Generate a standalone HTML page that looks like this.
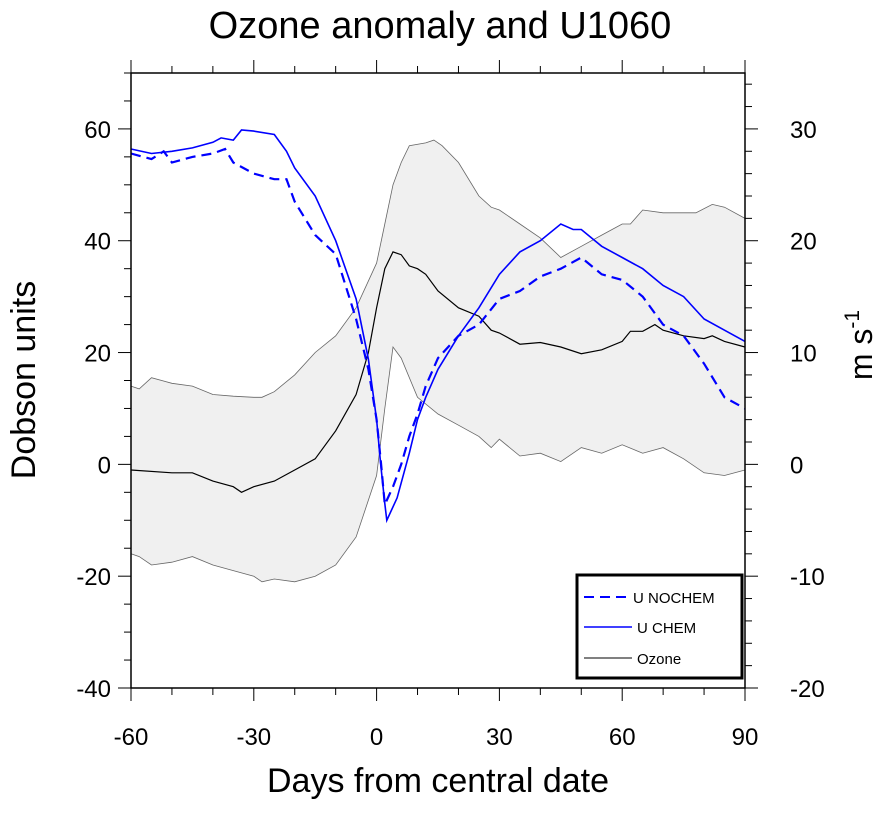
<!DOCTYPE html>
<html><head><meta charset="utf-8"><style>
body{margin:0;background:#fff;}
svg text{font-family:"Liberation Sans",sans-serif;}
</style></head><body>
<svg id="chart" width="880" height="809" xmlns="http://www.w3.org/2000/svg">
<rect width="880" height="809" fill="#fff"/>
<text x="440" y="38" font-size="38" text-anchor="middle">Ozone anomaly and U1060</text>
<g id="plot"></g>
<text x="438" y="792" font-size="34" text-anchor="middle">Days from central date</text>
<text transform="translate(35,380) rotate(-90)" font-size="34" text-anchor="middle">Dobson units</text>
<text transform="translate(872,345) rotate(-90)" font-size="32" text-anchor="middle">m s<tspan font-size="21" dy="-13">-1</tspan></text>
<g>
<rect x="577" y="575" width="165" height="103" fill="#fff" stroke="#000" stroke-width="3"/>
<line x1="584" y1="597" x2="632" y2="597" stroke="#0000ff" stroke-width="2" stroke-dasharray="10,6"/>
<text x="633" y="603" font-size="15">U NOCHEM</text>
<line x1="584" y1="627" x2="632" y2="627" stroke="#0000ff" stroke-width="1.5"/>
<text x="637" y="633" font-size="15">U CHEM</text>
<line x1="584" y1="658" x2="632" y2="658" stroke="#000" stroke-width="1"/>
<text x="637" y="664" font-size="15">Ozone</text>
</g>
</svg>
<script>
const ozDays=[-60,-50,-45,-40,-35,-33,-30,-25,-20,-15,-10,-5,-2,0,2,4,6,8,10,12,15,20,25,28,30,35,40,45,50,55,60,62,65,68,70,75,80,82,85,90];
const ozMean=[-1,-1.5,-1.5,-3,-4,-5,-4,-3,-1,1,6,12.5,20,28,35,38,37.5,35.5,35,34,31,28,26.5,24,23.5,21.5,21.8,21,19.8,20.5,22,23.8,23.8,25,24,23,22.5,23,22,21];
const upDays=[-60,-58,-55,-50,-45,-40,-35,-30,-28,-25,-20,-15,-10,-5,0,2,4,6,8,12,14,16,20,25,28,30,35,40,45,50,55,60,62,65,70,75,78,82,85,90];
const ozUpper=[14,13.5,15.5,14.5,14,12.5,12.2,12,12,13,16,20,23,28,36,43,50,54,57,57.5,58,57,54,48,46,45.5,43,40.5,37,39,41,43,43,45.5,45,45,45,46.5,46,44];
const loDays=[-60,-58,-55,-50,-45,-40,-35,-30,-28,-25,-20,-15,-10,-5,0,2,4,6,10,15,20,25,28,30,35,40,45,50,55,60,65,70,75,80,85,90];
const ozLower=[-16,-16.5,-18,-17.5,-16.5,-18,-19,-20,-21,-20.5,-21,-20,-18,-13,-2,10,21,19,12,9,7,5,3,4.5,1.5,2,0.5,3,2,3.5,2,3,1,-1.5,-2,-1];
const chemDays=[-60,-55,-50,-45,-40,-38,-35,-33,-30,-25,-22,-20,-15,-10,-5,-2,0,1,2,2.5,5,8,10,12,15,20,25,30,35,40,45,48,50,55,60,65,70,75,80,85,90];
const uChem=[28.2,27.8,28,28.3,28.8,29.2,29,29.9,29.8,29.5,28,26.5,24,20,14.8,9.4,4,0,-3.5,-5,-3,1,4,6,8.5,11.5,14,17,19,20,21.5,21,21,19.5,18.5,17.5,16,15,13,12,11];
const nochemDays=[-60,-55,-52,-50,-45,-40,-37,-35,-30,-25,-22,-20,-15,-10,-5,-2,0,1,2,4,6,8,10,12,15,20,25,30,35,40,45,50,55,60,65,70,75,80,85,90];
const uNochem=[27.8,27.3,28,27,27.5,27.8,28.2,27,26,25.5,25.5,23.5,20.5,18.8,13,8.5,4,0.4,-3.6,-2,0,2.5,4.5,7,9.5,11.5,12.5,14.8,15.5,16.8,17.5,18.5,17,16.5,15,12.5,11.5,9,6,5];
const xTicks=[-60,-30,0,30,60,90];
const yLeftTicks=[-40,-20,0,20,40,60];
const yRightTicks=[-20,-10,0,10,20,30];

const X0=131,X1=745,Y0=73,Y1=688;
const xs=d=>X0+(d+60)/150*(X1-X0);
const yL=v=>Y1-(v+40)/110*(Y1-Y0);
const yR=v=>Y1-(v+20)/55*(Y1-Y0);
const NS="http://www.w3.org/2000/svg";
const plot=document.getElementById('plot');
function mk(tag,attrs){const e=document.createElementNS(NS,tag);for(const k in attrs)e.setAttribute(k,attrs[k]);plot.appendChild(e);return e;}
const pts=(d,v,f)=>d.map((x,i)=>xs(x).toFixed(1)+','+f(v[i]).toFixed(1));

let bandPts=pts(upDays,ozUpper,yL).concat(pts(loDays,ozLower,yL).reverse());
let band=mk('polygon',{points:bandPts.join(' '),fill:'#f0f0f0',stroke:'none'});


let up=mk('polyline',{points:pts(upDays,ozUpper,yL).join(' '),fill:'none',stroke:'#666',"stroke-width":0.8});


let lo=mk('polyline',{points:pts(loDays,ozLower,yL).join(' '),fill:'none',stroke:'#666',"stroke-width":0.8});


let om=mk('polyline',{points:pts(ozDays,ozMean,yL).join(' '),fill:'none',stroke:'#000',"stroke-width":1.2});


let uc=mk('polyline',{points:pts(chemDays,uChem,yR).join(' '),fill:'none',stroke:'#0000ff',"stroke-width":1.6});


let un=mk('polyline',{points:pts(nochemDays,uNochem,yR).join(' '),fill:'none',stroke:'#0000ff',"stroke-width":2.2,"stroke-dasharray":"10,6"});



let fr=mk('rect',{x:X0,y:Y0,width:X1-X0,height:Y1-Y0,fill:'none',stroke:'#000',"stroke-width":1.5});



for(let d=-60;d<=90;d+=10){const maj=(d%30===0);const L=maj?13:7;
 mk('line',{x1:xs(d),y1:Y1,x2:xs(d),y2:Y1+L,stroke:'#000',"stroke-width":1});
 mk('line',{x1:xs(d),y1:Y0,x2:xs(d),y2:Y0-L,stroke:'#000',"stroke-width":1});}
xTicks.forEach(d=>{const t=mk('text',{x:xs(d),y:Y1+57,"font-size":24,"text-anchor":"middle"});t.textContent=d;

});
for(let v=-40;v<=70;v+=5){const maj=(v%20===0);const L=maj?13:7;
 mk('line',{x1:X0,y1:yL(v),x2:X0-L,y2:yL(v),stroke:'#000',"stroke-width":1});}
yLeftTicks.forEach(v=>{const t=mk('text',{x:X0-20,y:yL(v)+9,"font-size":24,"text-anchor":"end"});t.textContent=v;

});
for(let v=-20;v<=34;v+=2){const maj=(v%10===0);const L=maj?13:7;
 mk('line',{x1:X1,y1:yR(v),x2:X1+L,y2:yR(v),stroke:'#000',"stroke-width":1});}
yRightTicks.forEach(v=>{const t=mk('text',{x:X1+45,y:yR(v)+9,"font-size":24,"text-anchor":"start"});t.textContent=v;

});
</script>
</body></html>
